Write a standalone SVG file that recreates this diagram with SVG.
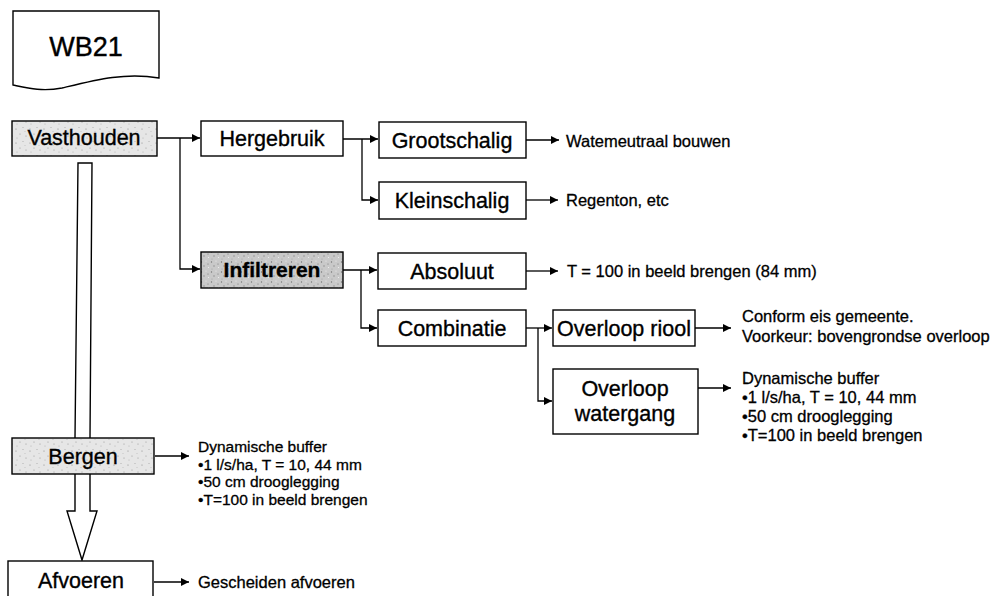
<svg xmlns="http://www.w3.org/2000/svg" width="998" height="596" viewBox="0 0 998 596">
  <defs>
    <pattern id="speckLight" width="14" height="14" patternUnits="userSpaceOnUse">
      <rect width="14" height="14" fill="#e6e6e6"/>
      <circle cx="2" cy="3" r="0.6" fill="#8a8a8a"/>
      <circle cx="9" cy="1.5" r="0.5" fill="#a0a0a0"/>
      <circle cx="6" cy="8" r="0.6" fill="#9a9a9a"/>
      <circle cx="12" cy="10" r="0.5" fill="#888"/>
      <circle cx="3" cy="12" r="0.5" fill="#aaa"/>
      <circle cx="11" cy="5.5" r="0.4" fill="#999"/>
    </pattern>
    <pattern id="speckDark" width="10" height="10" patternUnits="userSpaceOnUse">
      <rect width="10" height="10" fill="#c9c9c9"/>
      <circle cx="1.5" cy="2" r="0.7" fill="#777"/>
      <circle cx="6" cy="1" r="0.6" fill="#eee"/>
      <circle cx="4" cy="6" r="0.7" fill="#888"/>
      <circle cx="8.5" cy="7.5" r="0.6" fill="#f2f2f2"/>
      <circle cx="2" cy="9" r="0.5" fill="#999"/>
      <circle cx="8" cy="4" r="0.5" fill="#666"/>
    </pattern>
    <marker id="ah" viewBox="0 0 10 10" refX="10" refY="5" markerWidth="10" markerHeight="8" markerUnits="userSpaceOnUse" orient="auto">
      <path d="M0,0 L10,5 L0,10 Z" fill="#000"/>
    </marker>
  </defs>
  <style>
    .box { fill: #fff; stroke: #000; stroke-width: 1.4; }
    .lt { fill: url(#speckLight); stroke: #000; stroke-width: 1.4; }
    .dk { fill: url(#speckDark); stroke: #000; stroke-width: 1.4; }
    .lbl { font-family: "Liberation Sans", Arial, sans-serif; font-size: 21.5px; fill: #000; stroke: #000; stroke-width: 0.35; text-anchor: middle; }
    .note { font-family: "Liberation Sans", Arial, sans-serif; font-size: 16.5px; fill: #000; stroke: #000; stroke-width: 0.3; }
    .sm { font-size: 15.5px; }
    .con { fill: none; stroke: #000; stroke-width: 1.3; }
    .arr { marker-end: url(#ah); }
    .hollow { fill: #fff; stroke: #000; stroke-width: 1.4; stroke-linejoin: miter; }
  </style>
  <rect width="998" height="596" fill="#fff"/>

  <g id="wb21">
    <path class="box" d="M13,11 H159 V78 C125,72 95,80 62,88 C42,92 27,88 13,85 Z"/>
    <text x="86" y="56" style="font-family:'Liberation Sans',Arial,sans-serif;font-size:27px;text-anchor:middle;stroke:#000;stroke-width:0.4">WB21</text>
  </g>

  <g id="hollow-arrows">
    <path class="hollow" d="M75,438 L78,163 H92 L90,438"/>
    <path class="hollow" d="M75,474 V511 H67 L82,560 L97,511 H90 V474"/>
  </g>

  <g id="connectors">
    <path class="con arr" d="M157,138 H200"/>
    <path class="con arr" d="M180,138 V269 H200"/>
    <path class="con arr" d="M343,139 H378"/>
    <path class="con arr" d="M362,139 V200 H378"/>
    <path class="con arr" d="M526,140 H559"/>
    <path class="con arr" d="M526,200 H558"/>
    <path class="con arr" d="M343,270 H377"/>
    <path class="con arr" d="M361,270 V328 H377"/>
    <path class="con arr" d="M526,271 H558"/>
    <path class="con arr" d="M526,328 H552"/>
    <path class="con arr" d="M538,328 V401 H552"/>
    <path class="con arr" d="M695,328 H731"/>
    <path class="con arr" d="M698,388 H731"/>
    <path class="con arr" d="M155,456 H189"/>
    <path class="con arr" d="M154,582 H189"/>
  </g>

  <g id="vasthouden">
    <rect class="lt" x="12" y="121" width="145" height="35"/>
    <text class="lbl" x="84" y="145">Vasthouden</text>
  </g>
  <g id="hergebruik">
    <rect class="box" x="201" y="121" width="142" height="35"/>
    <text class="lbl" x="272" y="146">Hergebruik</text>
  </g>
  <g id="grootschalig">
    <rect class="box" x="379" y="122" width="147" height="36"/>
    <text class="lbl" x="452" y="148">Grootschalig</text>
  </g>
  <g id="kleinschalig">
    <rect class="box" x="379" y="182" width="147" height="37"/>
    <text class="lbl" x="452" y="208">Kleinschalig</text>
  </g>
  <g id="infiltreren">
    <rect class="dk" x="201" y="252" width="142" height="36"/>
    <text class="lbl" x="272" y="277" style="font-weight:bold;font-size:21px">Infiltreren</text>
  </g>
  <g id="absoluut">
    <rect class="box" x="378" y="253" width="148" height="36"/>
    <text class="lbl" x="452" y="279">Absoluut</text>
  </g>
  <g id="combinatie">
    <rect class="box" x="378" y="310" width="148" height="36"/>
    <text class="lbl" x="452" y="336">Combinatie</text>
  </g>
  <g id="overloop-riool">
    <rect class="box" x="553" y="310" width="142" height="36"/>
    <text class="lbl" x="624" y="336">Overloop riool</text>
  </g>
  <g id="overloop-watergang">
    <rect class="box" x="553" y="369" width="145" height="65"/>
    <text class="lbl" x="625" y="396">Overloop</text>
    <text class="lbl" x="625" y="421">watergang</text>
  </g>
  <g id="bergen">
    <rect class="lt" x="12" y="438" width="142" height="36"/>
    <text class="lbl" x="83" y="464">Bergen</text>
  </g>
  <g id="afvoeren">
    <rect class="box" x="8" y="561" width="145" height="45"/>
    <text class="lbl" x="81" y="588">Afvoeren</text>
  </g>

  <g id="notes">
    <text class="note" x="566" y="147">Watemeutraal bouwen</text>
    <text class="note" x="566" y="206">Regenton, etc</text>
    <text class="note" x="567" y="277">T = 100 in beeld brengen (84 mm)</text>
    <text class="note" x="742" y="322">Conform eis gemeente.</text>
    <text class="note" x="742" y="342">Voorkeur: bovengrondse overloop</text>
    <text class="note" x="742" y="384">Dynamische buffer</text>
    <text class="note" x="742" y="403">•1 l/s/ha, T = 10, 44 mm</text>
    <text class="note" x="742" y="422">•50 cm drooglegging</text>
    <text class="note" x="742" y="441">•T=100 in beeld brengen</text>
    <text class="note sm" x="198" y="452">Dynamische buffer</text>
    <text class="note sm" x="198" y="469.5">•1 l/s/ha, T = 10, 44 mm</text>
    <text class="note sm" x="198" y="487">•50 cm drooglegging</text>
    <text class="note sm" x="198" y="504.5">•T=100 in beeld brengen</text>
    <text class="note" x="198" y="588">Gescheiden afvoeren</text>
  </g>
</svg>
